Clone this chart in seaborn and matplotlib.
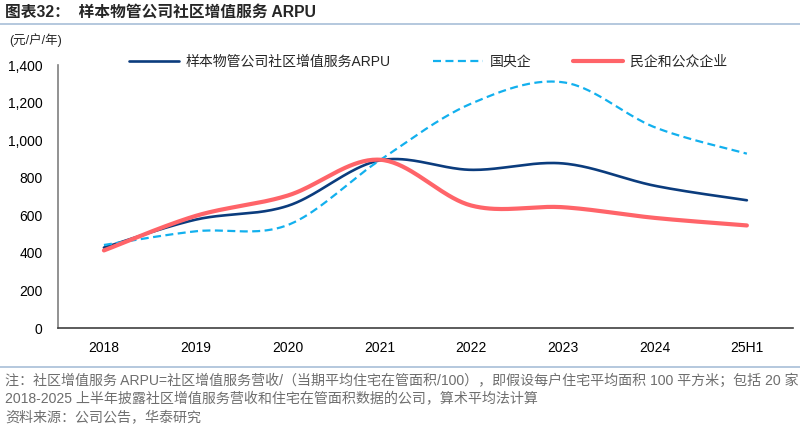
import numpy as np
import pandas as pd
import matplotlib
matplotlib.use("Agg")
import matplotlib.pyplot as plt
import seaborn as sns

# 数据
years = ['2018', '2019', '2020', '2021', '2022', '2023', '2024', '25H1']
sample_arpu = [428, 577, 650, 892, 842, 876, 757, 680]
soe_arpu = [442, 515, 548, 892, 1195, 1308, 1068, 928]
private_arpu = [413, 597, 705, 896, 652, 643, 586, 546]

series_names = ['样本物管公司社区增值服务ARPU', '国央企', '民企和公众企业']
series_values = [sample_arpu, soe_arpu, private_arpu]
colors = ['#0B3C7D', '#12B0EE', '#FF6469']


def smooth(vals, n=40):
    # Excel 式平滑曲线（Catmull-Rom / Bezier），只用于画线
    p = np.asarray(vals, dtype=float)
    pts = np.column_stack([np.arange(len(p)), p])
    pad = np.vstack([pts[0], pts, pts[-1]])
    xs, ys = [], []
    for i in range(len(pts) - 1):
        p0, p1, p2, p3 = pad[i], pad[i + 1], pad[i + 2], pad[i + 3]
        c1 = p1 + (p2 - p0) / 6
        c2 = p2 - (p3 - p1) / 6
        t = np.linspace(0, 1, n, endpoint=(i == len(pts) - 2))[:, None]
        b = ((1 - t) ** 3) * p1 + 3 * ((1 - t) ** 2) * t * c1 + 3 * (1 - t) * t ** 2 * c2 + t ** 3 * p2
        xs.append(b[:, 0])
        ys.append(b[:, 1])
    return np.concatenate(xs), np.concatenate(ys)


frames = []
for name, vals in zip(series_names, series_values):
    sx, sy = smooth(vals)
    frames.append(pd.DataFrame({'x': sx, 'y': sy, 'series': name}))
df = pd.concat(frames, ignore_index=True)

sns.set_theme(style='white')
plt.rcParams['font.family'] = ['Liberation Sans', 'Noto Sans CJK SC', 'DejaVu Sans']

fig = plt.figure(figsize=(8, 4.32), dpi=100)
ax = fig.add_axes([0.0725, 0.2407, 0.9185, 0.6088])

dash = (3.6, 2.0)
sns.lineplot(data=df, x='x', y='y', hue='series', style='series',
             palette=dict(zip(series_names, colors)),
             dashes={series_names[0]: '', series_names[1]: dash, series_names[2]: ''},
             sort=False, estimator=None, ax=ax, legend=False)

widths = [1.9, 1.6, 3.0]
for line, w in zip(ax.get_lines(), widths):
    line.set_linewidth(w)

ax.set_xlim(-0.5, len(years) - 0.5)
ax.set_ylim(0, 1400)
ax.set_yticks(range(0, 1401, 200))
ax.set_yticklabels([f'{v:,}' for v in range(0, 1401, 200)], fontsize=10, color='black')
ax.set_xticks(np.arange(len(years)))
ax.set_xticklabels(years, fontsize=10, color='black')
ax.set_xticks(np.arange(len(years) + 1) - 0.5, minor=True)
ax.tick_params(axis='x', which='major', length=0, pad=9)
ax.tick_params(axis='x', which='minor', length=4, width=1, color='#404040', direction='out')
ax.tick_params(axis='y', length=4, width=1, color='#404040', direction='out', pad=7)
ax.set_xlabel('')
ax.set_ylabel('')

for s in ['top', 'right']:
    ax.spines[s].set_visible(False)
ax.spines['left'].set_color('#7F7F7F')
ax.spines['left'].set_linewidth(1.2)
ax.spines['bottom'].set_color('#404040')
ax.spines['bottom'].set_linewidth(1.2)

handles = [plt.Line2D([], [], color=c, lw=w, ls=ls)
           for c, w, ls in zip(colors, widths, ['-', (0, dash), '-'])]
fig.legend(handles, series_names, loc='center', bbox_to_anchor=(0.535, 0.857),
           ncol=3, frameon=False, fontsize=10, handlelength=3.6,
           handletextpad=0.5, columnspacing=3.0)

# 标题、单位、脚注
fig.text(0.006, 0.972, '图表32：  样本物管公司社区增值服务 ARPU', fontsize=11.3,
         fontweight='bold', va='center', ha='left')
fig.add_artist(plt.Line2D([0, 1], [0.944, 0.944], transform=fig.transFigure,
                          color='#A8BFD8', lw=1.2))
fig.text(0.012, 0.907, '(元/户/年)', fontsize=9, va='center', ha='left')
fig.add_artist(plt.Line2D([0, 1], [0.151, 0.151], transform=fig.transFigure,
                          color='#A8BFD8', lw=1.2))
note_color = '#6E6E6E'
fig.text(0.006, 0.118, '注：社区增值服务 ARPU=社区增值服务营收/（当期平均住宅在管面积/100），即假设每户住宅平均面积 100 平方米；包括 20 家',
         fontsize=10.1, color=note_color, va='center', ha='left')
fig.text(0.006, 0.076, '2018-2025 上半年披露社区增值服务营收和住宅在管面积数据的公司，算术平均法计算',
         fontsize=10.1, color=note_color, va='center', ha='left')
fig.text(0.006, 0.032, '资料来源：公司公告，华泰研究',
         fontsize=10.1, color=note_color, va='center', ha='left')

fig.savefig('out.png', dpi=100)
